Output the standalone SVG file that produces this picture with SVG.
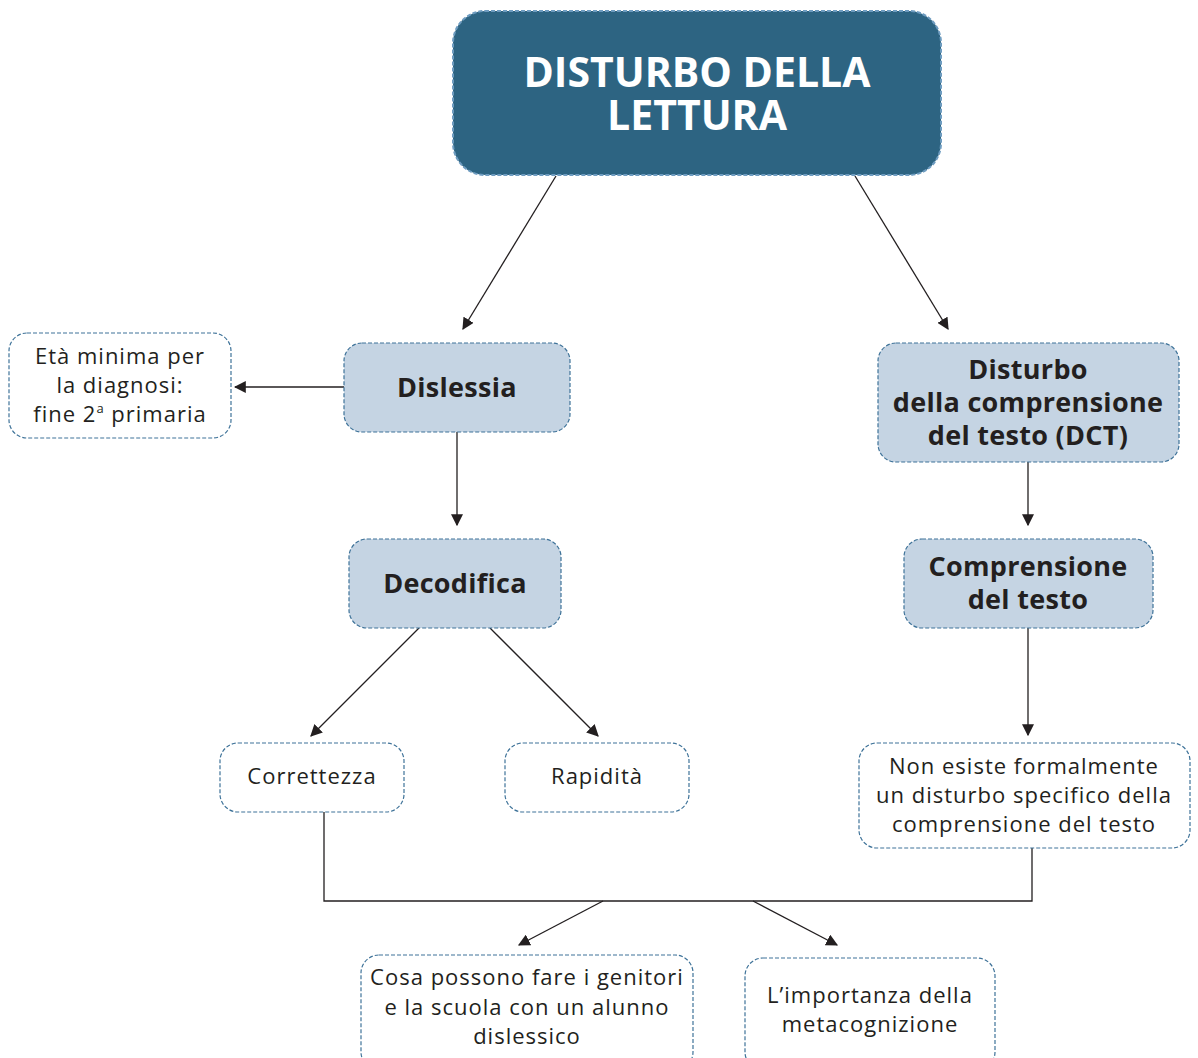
<svg xmlns="http://www.w3.org/2000/svg" width="1198" height="1058" viewBox="0 0 1198 1058">
<style>
.box{fill:#ffffff;stroke:#3f7399;stroke-width:1.2;stroke-dasharray:4 2}
.mid{fill:#c5d4e3;stroke:#3f7399;stroke-width:1.2;stroke-dasharray:4 2}
.top{fill:#2d6482;stroke:#6e9cc0;stroke-width:2;stroke-dasharray:4 2}
.t{font-family:"Open Sans","Liberation Sans",sans-serif;font-size:22px;letter-spacing:1px;fill:#231f20;text-anchor:middle}
.b{font-family:"Open Sans","Liberation Sans",sans-serif;font-size:27px;letter-spacing:0.3px;font-weight:bold;fill:#231f20;text-anchor:middle}
.h{font-family:"Open Sans","Liberation Sans",sans-serif;font-size:41px;font-weight:bold;fill:#ffffff;text-anchor:middle}
.c{fill:none;stroke:#231f20;stroke-width:1.3}
</style>
<defs>
<marker id="ah" viewBox="0 0 10 10" refX="9" refY="5" markerWidth="12" markerHeight="12" markerUnits="userSpaceOnUse" orient="auto">
<path d="M0,0 L10,5 L0,10 z" fill="#231f20"/>
</marker>
</defs>
<rect width="1198" height="1058" fill="#ffffff"/>
<g id="connectors">
<line class="c" x1="556" y1="176" x2="463" y2="329" marker-end="url(#ah)"/>
<line class="c" x1="855" y1="176" x2="948" y2="329" marker-end="url(#ah)"/>
<line class="c" x1="344" y1="387" x2="235" y2="387" marker-end="url(#ah)"/>
<line class="c" x1="457" y1="432" x2="457" y2="525" marker-end="url(#ah)"/>
<line class="c" x1="1028" y1="462" x2="1028" y2="525" marker-end="url(#ah)"/>
<line class="c" x1="419" y1="628" x2="311" y2="736" marker-end="url(#ah)"/>
<line class="c" x1="490" y1="628" x2="598" y2="736" marker-end="url(#ah)"/>
<line class="c" x1="1028" y1="628" x2="1028" y2="735" marker-end="url(#ah)"/>
<polyline class="c" points="324,812 324,901 1032,901 1032,848"/>
<line class="c" x1="603" y1="901" x2="519" y2="945" marker-end="url(#ah)"/>
<line class="c" x1="753" y1="901" x2="837" y2="945" marker-end="url(#ah)"/>
</g>
<g id="n-top">
<rect class="top" x="453" y="11" width="488" height="164" rx="32"/>
<text class="h" x="697" y="87">DISTURBO DELLA</text>
<text class="h" x="697" y="130">LETTURA</text>
</g>
<g id="n-dislessia">
<rect class="mid" x="344" y="343" width="226" height="89" rx="18"/>
<text class="b" x="457" y="397">Dislessia</text>
</g>
<g id="n-eta">
<rect class="box" x="9" y="333" width="222" height="105" rx="18"/>
<text class="t" x="120" y="364">Età minima per</text>
<text class="t" x="120" y="393">la diagnosi:</text>
<text class="t" x="120" y="422">fine 2<tspan font-size="13" dy="-9">a</tspan><tspan dy="9"> primaria</tspan></text>
</g>
<g id="n-dct">
<rect class="mid" x="878" y="343" width="301" height="119" rx="18"/>
<text class="b" x="1028" y="379">Disturbo</text>
<text class="b" x="1028" y="412">della comprensione</text>
<text class="b" x="1028" y="445">del testo (DCT)</text>
</g>
<g id="n-decodifica">
<rect class="mid" x="349" y="539" width="212" height="89" rx="18"/>
<text class="b" x="455" y="593">Decodifica</text>
</g>
<g id="n-comprensione">
<rect class="mid" x="904" y="539" width="249" height="89" rx="18"/>
<text class="b" x="1028" y="576">Comprensione</text>
<text class="b" x="1028" y="609">del testo</text>
</g>
<g id="n-correttezza">
<rect class="box" x="220" y="743" width="184" height="69" rx="18"/>
<text class="t" x="312" y="784">Correttezza</text>
</g>
<g id="n-rapidita">
<rect class="box" x="505" y="743" width="184" height="69" rx="18"/>
<text class="t" x="597" y="784">Rapidità</text>
</g>
<g id="n-nonesiste">
<rect class="box" x="859" y="743" width="331" height="105" rx="18"/>
<text class="t" x="1024" y="774">Non esiste formalmente</text>
<text class="t" x="1024" y="803">un disturbo specifico della</text>
<text class="t" x="1024" y="832">comprensione del testo</text>
</g>
<g id="n-cosa">
<rect class="box" x="361" y="955" width="332" height="115" rx="18"/>
<text class="t" x="527" y="985">Cosa possono fare i genitori</text>
<text class="t" x="527" y="1015">e la scuola con un alunno</text>
<text class="t" x="527" y="1044">dislessico</text>
</g>
<g id="n-importanza">
<rect class="box" x="745" y="958" width="250" height="112" rx="18"/>
<text class="t" x="870" y="1003">L’importanza della</text>
<text class="t" x="870" y="1032">metacognizione</text>
</g>
</svg>
